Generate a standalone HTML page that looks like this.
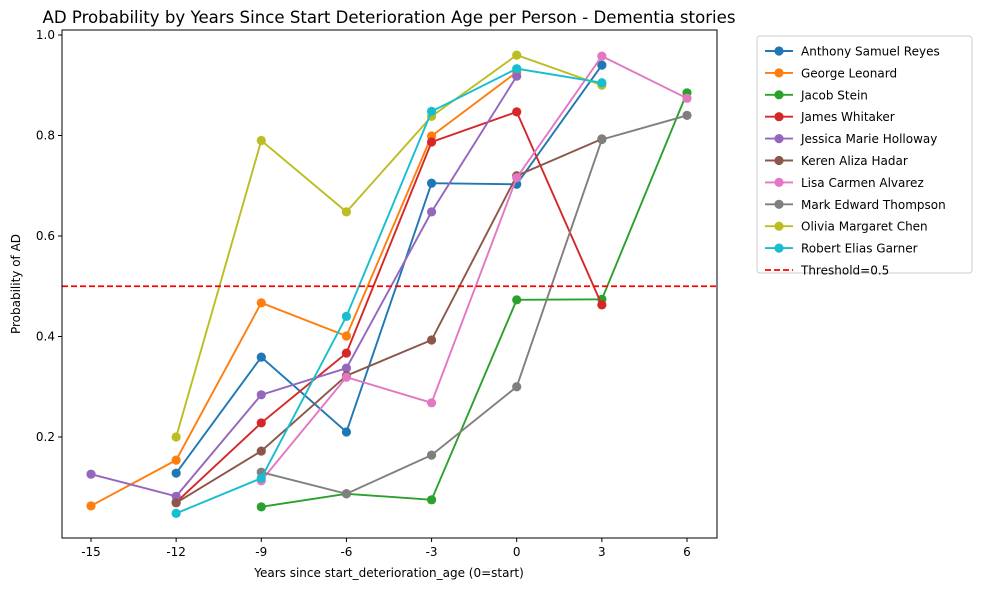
<!DOCTYPE html>
<html><head><meta charset="utf-8"><style>
body{margin:0;background:#fff;font-family:"Liberation Sans","DejaVu Sans",sans-serif}
svg text{font-family:"DejaVu Sans","Liberation Sans",sans-serif}
</style></head><body>
<svg id="chart" width="984" height="590"></svg>
<script>
const xTicks=[-15,-12,-9,-6,-3,0,3,6];
const yTicks=[0.2,0.4,0.6,0.8,1.0];
const names=["Anthony Samuel Reyes","George Leonard","Jacob Stein","James Whitaker","Jessica Marie Holloway","Keren Aliza Hadar","Lisa Carmen Alvarez","Mark Edward Thompson","Olivia Margaret Chen","Robert Elias Garner"];
const colors=["#1f77b4","#ff7f0e","#2ca02c","#d62728","#9467bd","#8c564b","#e377c2","#7f7f7f","#bcbd22","#17becf"];
const xsAnthony=[-12,-9,-6,-3,0,3], ysAnthony=[0.128,0.359,0.21,0.705,0.703,0.94];
const xsGeorge=[-15,-12,-9,-6,-3,0], ysGeorge=[0.063,0.154,0.467,0.401,0.799,0.926];
const xsJacob=[-9,-6,-3,0,3,6], ysJacob=[0.061,0.087,0.075,0.473,0.474,0.885];
const xsJames=[-12,-9,-6,-3,0,3], ysJames=[0.07,0.228,0.367,0.787,0.847,0.463];
const xsJessica=[-15,-12,-9,-6,-3,0], ysJessica=[0.126,0.082,0.284,0.337,0.648,0.918];
const xsKeren=[-12,-9,-6,-3,0,3], ysKeren=[0.069,0.172,0.322,0.393,0.72,0.793];
const xsLisa=[-9,-6,-3,0,3,6], ysLisa=[0.113,0.319,0.268,0.716,0.958,0.874];
const xsMark=[-9,-6,-3,0,3,6], ysMark=[0.13,0.087,0.164,0.30,0.792,0.84];
const xsOlivia=[-12,-9,-6,-3,0,3], ysOlivia=[0.2,0.79,0.648,0.838,0.96,0.90];
const xsRobert=[-12,-9,-6,-3,0,3], ysRobert=[0.048,0.118,0.44,0.848,0.933,0.905];
const threshold=0.5;
const series=[[xsAnthony,ysAnthony],[xsGeorge,ysGeorge],[xsJacob,ysJacob],[xsJames,ysJames],[xsJessica,ysJessica],[xsKeren,ysKeren],[xsLisa,ysLisa],[xsMark,ysMark],[xsOlivia,ysOlivia],[xsRobert,ysRobert]];
const L=62,R=717,T=30,B=538;
const X=v=>91+(v+15)*(596/21);
const Y=v=>437-(v-0.2)*502.5;
const NS="http://www.w3.org/2000/svg";
const svg=document.getElementById('chart');
function mk(tag,attrs,text){const e=document.createElementNS(NS,tag);for(const k in attrs)e.setAttribute(k,attrs[k]);if(text!==undefined)e.textContent=text;svg.appendChild(e);return e;}
let e;
e=mk('text',{x:389,y:23,'text-anchor':'middle','font-size':16.6,fill:'#000'},'AD Probability by Years Since Start Deterioration Age per Person - Dementia stories');


xTicks.forEach(t=>{mk('line',{x1:X(t),x2:X(t),y1:B,y2:B+4,stroke:'#000'});
e=mk('text',{x:X(t),y:B+18,'text-anchor':'middle','font-size':12},String(t));

});
yTicks.forEach(t=>{mk('line',{x1:L-4,x2:L,y1:Y(t),y2:Y(t),stroke:'#000'});
e=mk('text',{x:L-7,y:Y(t)+4,'text-anchor':'end','font-size':12},t.toFixed(1));

});
e=mk('text',{x:389,y:577,'text-anchor':'middle','font-size':12},'Years since start_deterioration_age (0=start)');


e=mk('text',{x:20,y:284,'text-anchor':'middle','font-size':12,transform:'rotate(-90 20 284)'},'Probability of AD');


series.forEach((s,i)=>{
 const pts=s[0].map((x,j)=>X(x)+','+Y(s[1][j])).join(' ');
 e=mk('polyline',{points:pts,fill:'none',stroke:colors[i],'stroke-width':1.9});
 
 
 s[0].forEach((x,j)=>{e=mk('circle',{cx:X(x),cy:Y(s[1][j]),r:4.6,fill:colors[i]});
 
 });
});
e=mk('line',{x1:L,x2:R,y1:Y(threshold),y2:Y(threshold),stroke:'#ff0000','stroke-width':1.7,'stroke-dasharray':'6,3'});


mk('rect',{x:L,y:T,width:R-L,height:B-T,fill:'none',stroke:'#000','stroke-width':1});
e=mk('rect',{x:757,y:36,width:215,height:237,fill:'#fff',stroke:'#ccc',rx:3});


names.concat(['Threshold=0.5']).forEach((n,i)=>{
 const y=51+i*21.9;
 if(i<10){mk('line',{x1:765,x2:793,y1:y,y2:y,stroke:colors[i],'stroke-width':1.9});mk('circle',{cx:779,cy:y,r:4.6,fill:colors[i]});}
 else mk('line',{x1:765,x2:793,y1:y,y2:y,stroke:'#ff0000','stroke-width':1.7,'stroke-dasharray':'6,3'});
 e=mk('text',{x:801,y:y+4.5,'font-size':12},n);
 
 
});
</script>
</body></html>
